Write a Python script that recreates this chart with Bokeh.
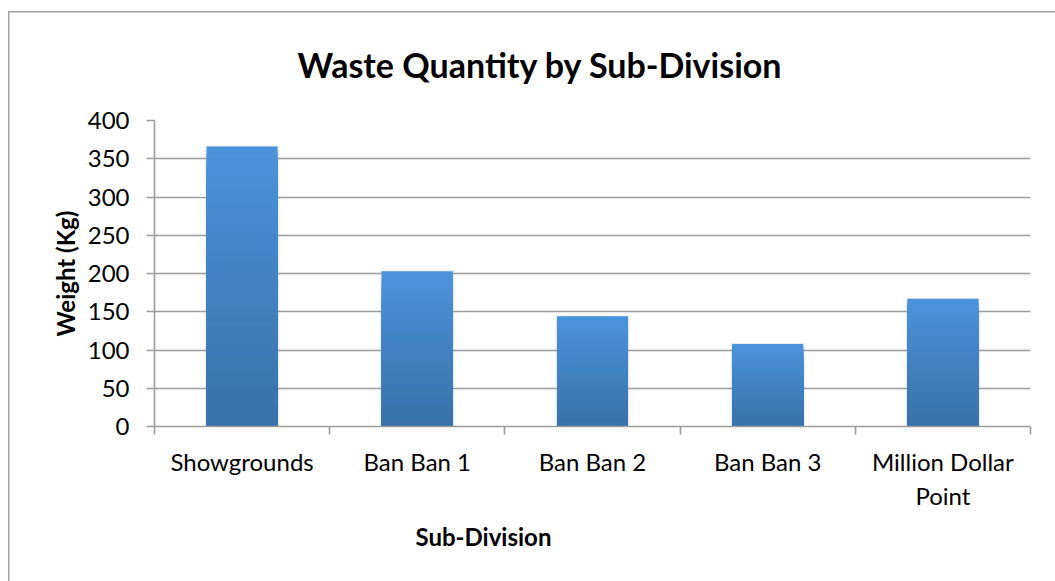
import numpy as np
from bokeh.plotting import figure
from bokeh.models import Range1d, FixedTicker, Title
from bokeh.embed import file_html
from bokeh.resources import INLINE

# Waste weight per sub-division (kg)
sub_divisions = ["Showgrounds", "Ban Ban 1", "Ban Ban 2", "Ban Ban 3", "Million Dollar\nPoint"]
weights_kg = [366, 203, 144, 108, 167]
y_ticks = [0, 50, 100, 150, 200, 250, 300, 350, 400]

title_text = "Waste Quantity by Sub-Division"
x_title = "Sub-Division"
y_title = "Weight (Kg)"

FONT = "Lato"
GRID = "#9c9c9c"
TOP_RGB = np.array([74, 147, 219])
BOTTOM_RGB = np.array([56, 113, 170])

n = len(sub_divisions)
centers = np.arange(n) + 0.5
weights = np.array(weights_kg, dtype=float)

p = figure(
    width=1055, height=581,
    x_range=Range1d(0, n), y_range=Range1d(0, 400),
    output_backend="svg", toolbar_location=None,
    min_border_left=154, min_border_right=25,
    min_border_top=120, min_border_bottom=155,
)
p.background_fill_color = None
p.border_fill_color = None
p.outline_line_color = None
p.styles = {
    "box-shadow": "inset 8px 11px 0 0 #ffffff, inset 9.5px 12.5px 0 0 #a3a3a3",
}

# grid
p.xgrid.grid_line_color = None
p.ygrid.grid_line_color = GRID
p.ygrid.grid_line_width = 1.6

# y axis
p.yaxis.ticker = FixedTicker(ticks=y_ticks)
p.yaxis.axis_line_color = GRID
p.yaxis.axis_line_width = 1.6
p.yaxis.major_tick_line_color = GRID
p.yaxis.major_tick_line_width = 1.6
p.yaxis.major_tick_in = 0
p.yaxis.major_tick_out = 8
p.yaxis.minor_tick_line_color = None
p.yaxis.major_label_standoff = 17
p.yaxis.major_label_text_font = FONT
p.yaxis.major_label_text_font_size = "24px"
p.yaxis.major_label_text_color = "#000000"
p.yaxis.axis_label = y_title
p.yaxis.axis_label_text_font = FONT
p.yaxis.axis_label_text_font_style = "bold"
p.yaxis.axis_label_text_font_size = "24px"
p.yaxis.axis_label_text_color = "#000000"
p.yaxis.axis_label_standoff = 5

# x axis: names under each bar, tick marks on category boundaries
p.xaxis.ticker = FixedTicker(ticks=list(centers), minor_ticks=list(range(n + 1)))
p.xaxis.major_label_overrides = {float(c): s for c, s in zip(centers, sub_divisions)}
p.xaxis.axis_line_color = GRID
p.xaxis.axis_line_width = 1.6
p.xaxis.major_tick_line_color = None
p.xaxis.minor_tick_line_color = GRID
p.xaxis.minor_tick_line_width = 1.6
p.xaxis.minor_tick_in = 0
p.xaxis.minor_tick_out = 8
p.xaxis.major_label_standoff = 12
p.xaxis.major_label_text_font = FONT
p.xaxis.major_label_text_font_size = "24px"
p.xaxis.major_label_text_color = "#000000"

# soft shadow around the bars
for extra, alpha in [(0.030, 0.05), (0.018, 0.07), (0.008, 0.09)]:
    p.vbar(x=centers, width=0.405 + extra, top=weights + extra * 60, bottom=0,
           fill_color="#808080", fill_alpha=alpha, line_color=None)

# bars with a vertical gradient: light at the top, darker at the base
steps = 48
for k in range(steps, 0, -1):
    frac = k / steps
    rgb = BOTTOM_RGB + (TOP_RGB - BOTTOM_RGB) * frac
    color = "#%02x%02x%02x" % tuple(int(round(c)) for c in rgb)
    p.vbar(x=centers, width=0.405, top=weights * frac, bottom=0,
           fill_color=color, line_color=None)

p.add_layout(Title(text=title_text, align="left", offset=143, standoff=71,
                   text_font=FONT, text_font_style="bold", text_font_size="34px",
                   text_color="#000000"), "above")
p.add_layout(Title(text=x_title, align="left", offset=261, standoff=12,
                   text_font=FONT, text_font_style="bold", text_font_size="24px",
                   text_color="#000000"), "below")

open("out.html", "w").write(file_html(p, INLINE))
